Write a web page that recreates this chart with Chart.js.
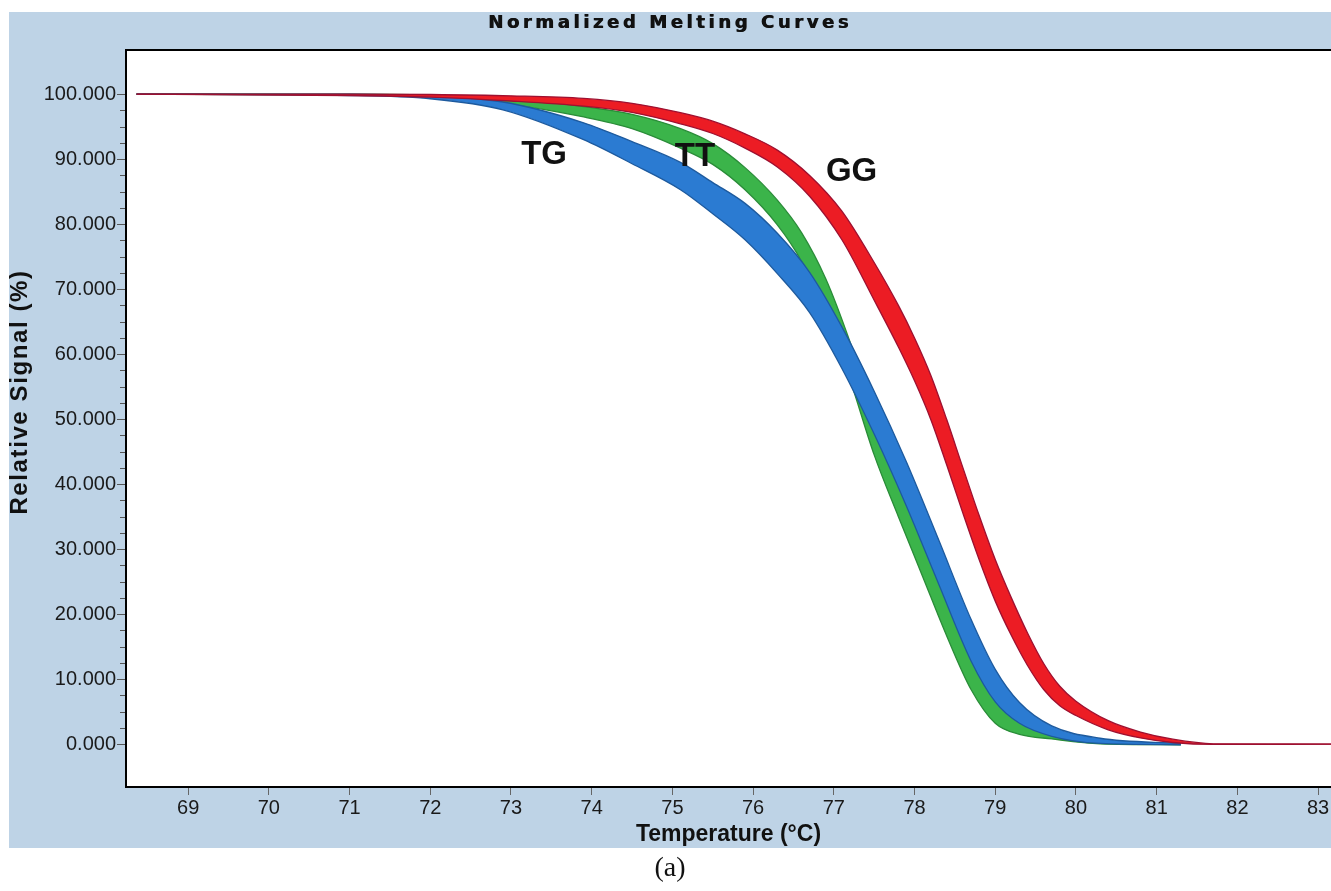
<!DOCTYPE html>
<html>
<head>
<meta charset="utf-8">
<script src="https://cdn.jsdelivr.net/npm/chart.js@4.4.1/dist/chart.umd.min.js"></script>
<style>
html,body{margin:0;padding:0;background:#fff;overflow:hidden}
#c{position:absolute;left:0;top:0}
</style>
</head>
<body>
<canvas id="c" width="1331" height="891"></canvas>
<script>
// ---- data (band edges of each genotype group) ----
const tgTemp  = [68.36, 71.0, 72.0, 72.9, 73.9, 74.5, 75.1, 75.5, 75.9, 76.3, 76.7, 77.1, 77.5, 77.9, 78.3, 78.7, 79.0, 79.3, 79.7, 80.3, 81.3];
const tgUpper = [100, 100, 99.7, 98.8, 95.6, 92.7, 89.5, 86.4, 83.2, 78.6, 72.6, 64.2, 54.3, 43.4, 31.4, 19.2, 11.5, 6.4, 2.8, 0.9, 0.1];
const tgLower = [100, 99.8, 99.3, 97.6, 93.0, 89.3, 85.3, 81.6, 77.6, 72.4, 66.4, 57.8, 47.7, 36.6, 24.6, 12.8, 6.5, 3.2, 1.2, 0.1, -0.1];

const ttTemp  = [68.36, 71.0, 72.0, 72.9, 73.9, 74.5, 75.1, 75.5, 75.9, 76.3, 76.6, 76.9, 77.2, 77.5, 77.8, 78.1, 78.4, 78.7, 79.0, 79.3, 79.7, 80.3, 81.3];
const ttUpper = [100, 100, 99.85, 99.4, 98.1, 96.9, 94.7, 92.4, 88.7, 83.7, 78.7, 71.6, 61.9, 50.5, 41.0, 31.8, 22.4, 13.6, 6.8, 3.3, 1.8, 0.55, 0.1];
const ttLower = [100, 99.9, 99.55, 98.6, 96.5, 94.7, 91.7, 89.2, 85.3, 79.9, 74.3, 66.4, 56.1, 44.5, 35.0, 25.8, 16.6, 8.4, 3.2, 1.5, 0.8, 0.05, -0.1];

const ggTemp  = [68.36, 71.0, 72.0, 73.0, 73.9, 74.5, 75.1, 75.5, 75.9, 76.3, 76.7, 77.1, 77.5, 77.8, 78.0, 78.2, 78.4, 78.6, 78.8, 79.0, 79.2, 79.4, 79.6, 79.8, 80.0, 80.4, 80.8, 81.2, 81.7, 83.16];
const ggUpper = [100, 100, 99.95, 99.75, 99.35, 98.6, 97.15, 95.85, 93.9, 91.4, 87.5, 82.0, 74.1, 67.5, 62.5, 56.8, 49.9, 42.5, 35.2, 28.4, 22.5, 17.1, 12.4, 8.9, 6.6, 3.6, 1.85, 0.75, 0.05, 0];
const ggLower = [100, 99.8, 99.55, 98.95, 98.15, 97.2, 95.45, 93.95, 91.7, 88.8, 84.3, 77.6, 68.3, 61.1, 55.9, 50.0, 42.9, 35.5, 28.4, 22.0, 16.7, 12.1, 8.4, 5.9, 4.4, 2.2, 0.95, 0.25, -0.05, 0];

const groupLabels  = ['TG', 'TT', 'GG'];
const labelTemps   = [73.41, 75.28, 77.22];
const labelSignals = [90.6, 90.3, 88.0];

const xTicks = [69, 70, 71, 72, 73, 74, 75, 76, 77, 78, 79, 80, 81, 82, 83];
const yTicks = [0, 10, 20, 30, 40, 50, 60, 70, 80, 90, 100];
const yMinorTicks = [2.5, 5, 7.5, 12.5, 15, 17.5, 22.5, 25, 27.5, 32.5, 35, 37.5, 42.5, 45, 47.5,
                     52.5, 55, 57.5, 62.5, 65, 67.5, 72.5, 75, 77.5, 82.5, 85, 87.5, 92.5, 95, 97.5];

const titleText  = 'Normalized Melting Curves';
const xTitleText = 'Temperature (°C)';
const yTitleText = 'Relative Signal (%)';
const panelLabel = '(a)';

// ---- build datasets ----
function band(temps, upper, lower, fillColor, edgeColor, order) {
  return [
    { data: temps.map((t, i) => ({ x: t, y: upper[i] })), borderColor: edgeColor, borderWidth: 1.3,
      fill: false, order: order },
    { data: temps.map((t, i) => ({ x: t, y: lower[i] })), borderColor: edgeColor, borderWidth: 1.3,
      backgroundColor: fillColor, fill: '-1', order: order }
  ];
}
const datasets = [
  ...band(ggTemp, ggUpper, ggLower, '#ec1c24', '#9e1030', 0),
  ...band(tgTemp, tgUpper, tgLower, '#2b7bd2', '#1d5a9e', 1),
  ...band(ttTemp, ttUpper, ttLower, '#3bb44a', '#2a8c38', 2)
];

const decor = {
  id: 'decor',
  beforeDraw(chart) {
    const ctx = chart.ctx, a = chart.chartArea;
    ctx.save();
    ctx.fillStyle = '#ffffff';
    ctx.fillRect(0, 0, chart.width, chart.height);
    ctx.fillStyle = '#bed3e6';
    ctx.fillRect(9, 12, chart.width - 9, 836);
    ctx.fillStyle = '#ffffff';
    ctx.fillRect(a.left, a.top, a.right - a.left, a.bottom - a.top);
    ctx.restore();
    const tb = chart.titleBlock;
    if (tb && !tb._spaced) {
      const orig = tb.draw.bind(tb);
      tb.draw = function () {
        const c = this.ctx;
        c.save(); c.letterSpacing = '3.6px'; orig();
        c.translate(0.7, 0); orig();
        c.restore();
      };
      tb._spaced = true;
    }
  },
  afterDraw(chart) {
    const ctx = chart.ctx, a = chart.chartArea;
    const xs = chart.scales.x, ys = chart.scales.y;
    ctx.save();
    // top border
    ctx.strokeStyle = '#000'; ctx.lineWidth = 2;
    ctx.beginPath(); ctx.moveTo(a.left - 1, a.top); ctx.lineTo(a.right, a.top); ctx.stroke();
    // minor ticks
    ctx.strokeStyle = '#555'; ctx.lineWidth = 1;
    yMinorTicks.forEach(v => {
      const py = Math.round(ys.getPixelForValue(v)) + 0.5;
      ctx.beginPath(); ctx.moveTo(a.left - 6, py); ctx.lineTo(a.left - 1, py); ctx.stroke();
    });
    // y title
    ctx.fillStyle = '#111';
    ctx.font = 'bold 24px "Liberation Sans", Arial, sans-serif';
    ctx.letterSpacing = '1.6px';
    ctx.textAlign = 'center'; ctx.textBaseline = 'middle';
    ctx.translate(20, 392); ctx.rotate(-Math.PI / 2);
    ctx.fillText(yTitleText, 0, 0);
    ctx.restore();
    // group labels
    ctx.save();
    ctx.fillStyle = '#111';
    ctx.font = 'bold 33px "Liberation Sans", Arial, sans-serif';
    ctx.textAlign = 'center'; ctx.textBaseline = 'middle';
    groupLabels.forEach((t, i) => {
      ctx.fillText(t, xs.getPixelForValue(labelTemps[i]), ys.getPixelForValue(labelSignals[i]));
    });
    ctx.restore();
  }
};

new Chart(document.getElementById('c'), {
  type: 'line',
  data: { datasets },
  options: {
    responsive: false,
    animation: false,
    devicePixelRatio: 1,
    layout: { padding: { left: 9, right: 0, top: 0, bottom: 0 } },
    elements: {
      point: { radius: 0, hoverRadius: 0 },
      line: { cubicInterpolationMode: 'monotone' }
    },
    plugins: {
      legend: { display: false },
      tooltip: { enabled: false },
      title: {
        display: true, text: titleText, color: '#111',
        font: { family: '"DejaVu Sans", "Liberation Sans", sans-serif', size: 18, weight: 'bold', lineHeight: 1.2 },
        padding: { top: 12.5, bottom: 15.9 }
      },
      subtitle: {
        display: true, position: 'bottom', text: panelLabel, color: '#111',
        font: { family: '"Liberation Serif", "Times New Roman", serif', size: 28, weight: 'normal', lineHeight: 1.2 },
        padding: { top: 4, bottom: 5.4 }
      }
    },
    scales: {
      x: {
        type: 'linear', min: 68.23, max: 83.16,
        afterBuildTicks: s => { s.ticks = xTicks.map(v => ({ value: v })); },
        afterFit: s => { s.height = 61; },
        grid: { drawOnChartArea: false, drawTicks: true, tickLength: 8, tickColor: '#666', tickWidth: 1 },
        border: { display: true, color: '#000', width: 2 },
        ticks: { font: { family: '"Liberation Sans", Arial, sans-serif', size: 20 }, color: '#1a1a1a',
                 padding: 1, maxRotation: 0, autoSkip: false, callback: v => String(v) },
        title: { display: true, text: xTitleText, color: '#111',
                 font: { family: '"Liberation Sans", Arial, sans-serif', size: 23, weight: 'bold', lineHeight: 1 },
                 padding: { top: 0, bottom: 1.5 } }
      },
      y: {
        type: 'linear', min: -6.6, max: 106.8,
        afterBuildTicks: s => { s.ticks = yTicks.map(v => ({ value: v })); },
        afterFit: s => { s.width = 117; },
        grid: { drawOnChartArea: false, drawTicks: true, tickLength: 9, tickColor: '#555', tickWidth: 1 },
        border: { display: true, color: '#000', width: 2 },
        ticks: { font: { family: '"Liberation Sans", Arial, sans-serif', size: 20 }, color: '#1a1a1a',
                 padding: 1, autoSkip: false, callback: v => Number(v).toFixed(3) }
      }
    }
  },
  plugins: [decor]
});
</script>
</body>
</html>
